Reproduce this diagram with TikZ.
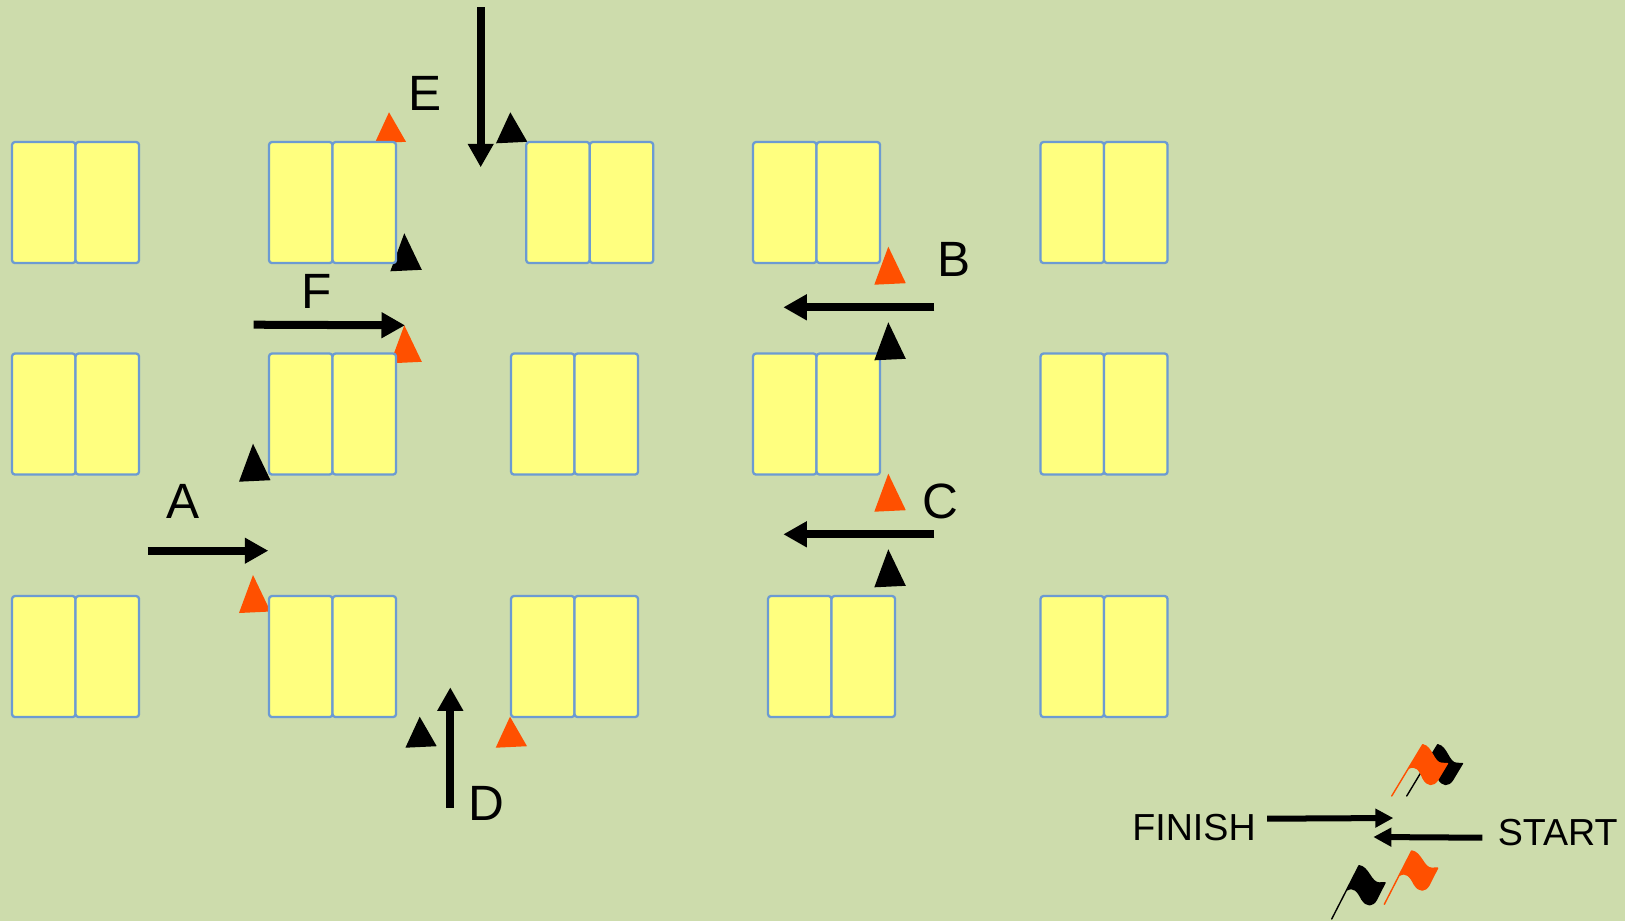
\documentclass[tikz,border=0pt]{standalone}
\usepackage{fontspec}
\setmainfont{Liberation Sans}
\usetikzlibrary{arrows.meta,positioning}
\definecolor{fieldgreen}{RGB}{205,220,172}
\definecolor{stallyellow}{RGB}{255,255,127}
\definecolor{stallblue}{RGB}{108,155,210}
\definecolor{coneorange}{RGB}{255,80,0}
\tikzset{
  stall/.style={draw=stallblue,fill=stallyellow,line width=0.023cm,rounded corners=0.03cm,outer sep=0pt,inner sep=0pt,minimum width=0.635cm,minimum height=1.21cm},
  flow/.style={line width=0.08cm,-{Triangle[length=0.235cm,width=0.245cm]}},
  flowsmall/.style={line width=0.06cm,-{Triangle[length=0.18cm,width=0.18cm]}},
  letter/.style={inner sep=0pt,font=\fontsize{14.1pt}{14.1pt}\selectfont},
  word/.style={inner sep=0pt,font=\fontsize{10.7pt}{10.7pt}\selectfont},
  flag/.pic={
    \path[pic actions,line width=0.014cm] (0,0) -- (27.3,-53.3) .. controls (37,-52) and (39,-36) .. (47.5,-36) -- (53.3,-36.3) -- (44.5,-19) .. controls (41,-13) and (35,-12) .. (30,-20) .. controls (26,-28) and (22,-33) .. (15,-29) -- (27.3,-53.3) -- cycle;
  }
}
\begin{document}
\begin{tikzpicture}[x=0.01cm,y=-0.01cm,line join=round]
\fill[fieldgreen] (0,0) rectangle (1625,921);
\useasboundingbox (0,0) rectangle (1625,921);
% --- cones, tall and short
\foreach \cx/\cy/\col in {404.3/233.3/black,253/443.7/black,888.3/549.3/black,404.3/325.3/coneorange,253/575/coneorange,888.3/246.7/coneorange,888.3/473.7/coneorange}
  \fill[\col] (\cx,\cy) -- ++(-14,38) -- ++(31.5,-1.5) -- cycle;
\foreach \cx/\cy/\col in {389/112.3/coneorange,510.3/112.3/black,419.7/716.7/black,510/716.7/coneorange}
  \fill[\col] (\cx,\cy) -- ++(-14.3,31) -- ++(31.3,-1.5) -- cycle;
% --- stalls, top left corner of each pair
\foreach \name/\sx/\sy in {a/12/142,b/269/142,c/526.2/142,d/753/142,e/1040.5/142,f/12/353.5,g/269/353.5,h/511/353.5,i/753/353.5,j/1040.5/353.5,k/12/596,l/269/596,m/511/596,n/768/596,o/1040.5/596}{
  \node[stall,anchor=north west] (\name1) at (\sx,\sy) {};
  \node[stall,right=0pt of \name1] (\name2) {};
}
% this one stands in front of the stall
\fill[black] (888.3,322.3) -- ++(-14,38) -- ++(31.5,-1.5) -- cycle;
% --- driving lanes
\foreach \name/\xa/\ya/\xb/\yb in {A/147.7/550.7/268.3/550.7,F/253.7/324.7/405/325.3,E/480.7/7/480.7/167.3,B/934.3/307.3/783.3/307.3,C/934.3/534.3/783.3/534.3,D/450.3/807.7/450.3/687.3}{
  \coordinate (\name from) at (\xa,\ya);
  \coordinate (\name to) at (\xb,\yb);
  \draw[flow] (\name from) -- (\name to);
}
\node[letter] (labelA) at (183,501) {A};
\node[letter] (labelB) at (954,259) {B};
\node[letter] (labelC) at (940,501.5) {C};
\node[letter] (labelD) at (486.7,803.3) {D};
\node[letter] (labelE) at (425,93) {E};
\node[letter] (labelF) at (317,291) {F};
% --- legend
\node[word] (finish) at (1194,827.2) {FINISH};
\node[word] (start) at (1557.7,832.2) {START};
\coordinate (finishfrom) at (1267,818.7);
\coordinate (finishto) at (1393.3,818);
\coordinate (startfrom) at (1482.3,837.7);
\coordinate (startto) at (1373.3,837);
\draw[flowsmall] (finishfrom) -- (finishto);
\draw[flowsmall] (startfrom) -- (startto);
\pic[draw=black,fill=black,rotate=-4] at (1406.7,796) {flag};
\pic[draw=coneorange,fill=coneorange,rotate=-4] at (1391.7,796) {flag};
\pic[draw=black,fill=black] at (1331.7,919) {flag};
\pic[draw=coneorange,fill=coneorange] at (1384.3,904.3) {flag};
\end{tikzpicture}
\end{document}
